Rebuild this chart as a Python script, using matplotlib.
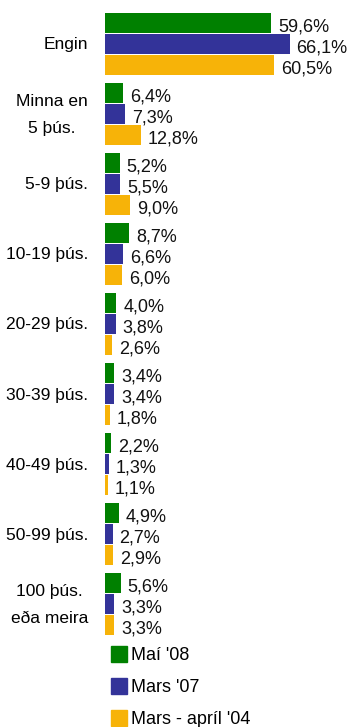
import matplotlib
matplotlib.use("Agg")
import matplotlib.pyplot as plt
from matplotlib.patches import Patch
import numpy as np

plt.rcParams['font.family'] = ['Liberation Sans', 'DejaVu Sans']

categories = ["Engin", "Minna en\n5 þús.", "5-9 þús.", "10-19 þús.", "20-29 þús.",
              "30-39 þús.", "40-49 þús.", "50-99 þús.", "100 þús.\neða meira"]
series_names = ["Maí '08", "Mars '07", "Mars - apríl '04"]
may08 = [59.6, 6.4, 5.2, 8.7, 4.0, 3.4, 2.2, 4.9, 5.6]
mar07 = [66.1, 7.3, 5.5, 6.6, 3.8, 3.4, 1.3, 2.7, 3.3]
mar04 = [60.5, 12.8, 9.0, 6.0, 2.6, 1.8, 1.1, 2.9, 3.3]
colors = ["#008000", "#333399", "#F7B308"]

fig = plt.figure(figsize=(3.49, 7.27), dpi=100)
# axes from x=105px, y=13px to y=635px
ax = fig.add_axes([105/349, 1 - 635/727, 244/349, 622/727])

group = 3.3
ind = np.arange(len(categories)) * group
for j, (vals, col) in enumerate(zip([may08, mar07, mar04], colors)):
    pos = ind + j
    ax.barh(pos, vals, height=0.92, color=col, label=series_names[j])
    for p, v in zip(pos, vals):
        ax.annotate(("%.1f%%" % v).replace(".", ","), (v, p), xytext=(7, -4),
                    textcoords="offset pixels",
                    va="center", ha="left", fontsize=13, color="#111111")

# category names, right aligned left of the bars
for y, cat in zip(ind + 1, categories):
    ax.annotate(cat, (0, y), xytext=(-17, -1), textcoords="offset pixels",
                ha="right", va="center", multialignment="center",
                linespacing=2.05, fontsize=12.5, annotation_clip=False)

ax.set_xlim(0, 87.4)
ax.set_ylim(ind[-1] + 2 + 0.46, -0.46)
ax.set_yticks([])
ax.set_xticks([])
for s in ax.spines.values():
    s.set_visible(False)

handles = [Patch(color=c) for c in colors]
fig.legend(handles, series_names, loc="upper left", bbox_to_anchor=(111/349, 1 - 646/727),
           frameon=False, fontsize=13, handlelength=0.9, handleheight=1.0,
           handletextpad=0.2, labelspacing=0.75, borderpad=0, borderaxespad=0)

plt.savefig("out.png", dpi=100)
